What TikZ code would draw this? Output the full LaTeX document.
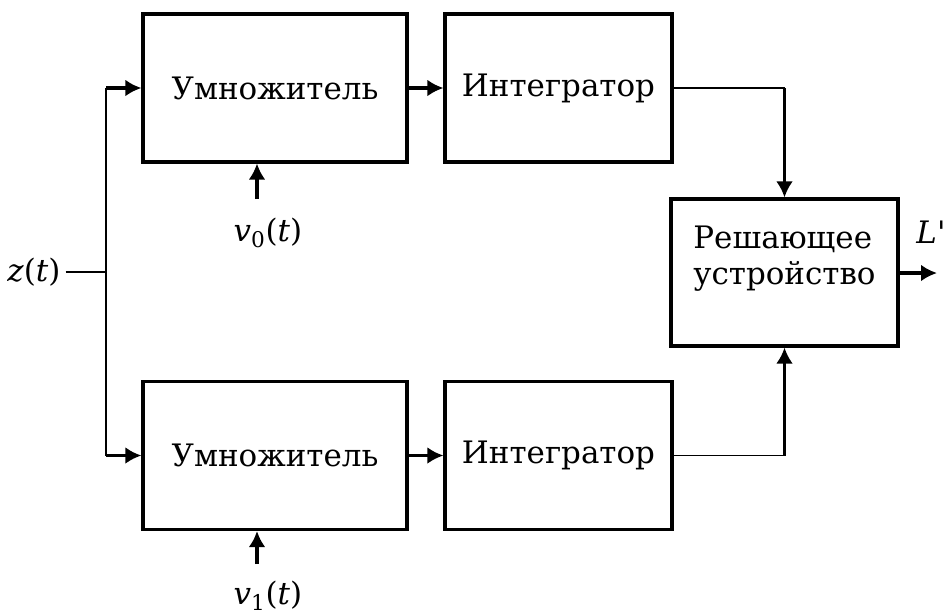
\documentclass[tikz,border=0pt]{standalone}
\usepackage{fontspec}
\setmainfont{DejaVu Serif}
\usetikzlibrary{arrows.meta,calc,positioning}

\begin{document}
\begin{tikzpicture}[x=0.025cm,y=-0.025cm,>={Latex[length=0.4cm,width=0.42cm]},font=\rmfamily\fontsize{22}{26}\selectfont]
	\tikzstyle{block} = [draw, rectangle, line width=2.2pt, minimum height=3.7cm, inner sep=0pt]
	\tikzstyle{wire} = [line width=1.1pt]
	\tikzstyle{feed} = [->, line width=2.2pt]
	
	\useasboundingbox (0,0) rectangle (944,614);
	
	\node[block, minimum width=6.6cm] (multA) at (275,88) {Умножитель};
	\node[block, minimum width=5.675cm] (intA) at (558.5,88) {Интегратор};
	\node[block, minimum width=6.6cm] (multB) at (275,455.5) {Умножитель};
	\node[block, minimum width=5.675cm] (intB) at (558.5,455.5) {Интегратор};
	\node[block, minimum width=5.675cm, minimum height=3.675cm] (dec) at (784.5,272.5) {};
	\node[align=left] (decT) at ([yshift=0.35cm]dec.center) {Решающее\\устройство};
	
	\node (z) at (34,272) {\textit{z}(\textit{t})};
	\coordinate (split) at (106,272);
	
	\node (v0) at (268,233) {\textit{v}\textsubscript{0}(\textit{t})};
	\coordinate (v0in) at (257,199);
	\node (v1) at (268,596) {\textit{v}\textsubscript{1}(\textit{t})};
	\coordinate (v1in) at (257,564);
	
	\coordinate (out) at (937,273);
	\node (L) at (931,232) {\textit{L}\textquotesingle};
	
	\coordinate (kA) at (intA.east -| dec.north);
	\coordinate (kB) at (intB.east -| dec.south);
	
	\draw [wire] (z) -- (split);
	\draw [wire] (split |- multA.west) -- (split |- multB.west);
	\draw [feed] (split |- multA.west) -- (multA.west);
	\draw [feed] (split |- multB.west) -- (multB.west);
	\draw [feed] (v0in) -- (v0in |- multA.south);
	\draw [feed] (v1in) -- (v1in |- multB.south);
	\draw [feed] (multA) -- (intA);
	\draw [feed] (multB) -- (intB);
	\draw [wire] (intA.east) -- (kA);
	\draw [wire] (intB.east) -- (kB);
	\draw [feed] (kA) -- (dec.north);
	\draw [feed] (kB) -- (dec.south);
	\draw [feed] (dec.east |- out) -- (out);
	
\end{tikzpicture}
\end{document}
